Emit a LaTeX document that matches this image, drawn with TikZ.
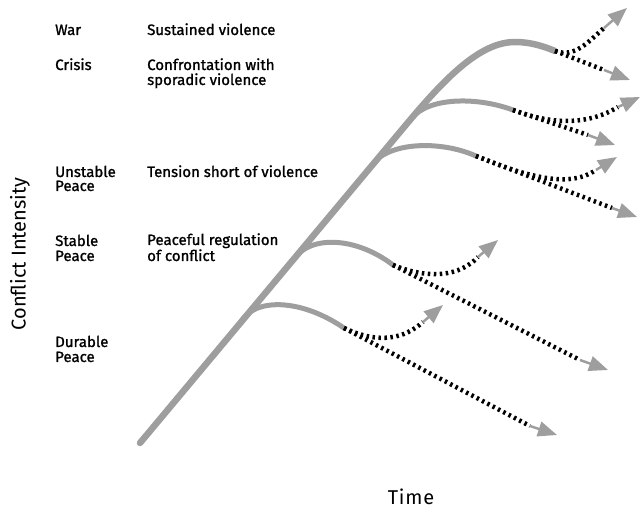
\documentclass[tikz,border=0pt]{standalone}
\usepackage{fontspec}
\setmainfont{Fira Sans}
\usetikzlibrary{arrows.meta}
\tikzset{
  mainline/.style={line width=6.5pt, draw=black!38, line cap=round},
  branchline/.style={line width=5pt, draw=black!38, line cap=round},
  hatch/.style={line width=4.5pt, draw=black, dash pattern=on 2.5pt off 3.5pt},
  graytip/.style={line width=2.5pt, draw=black!38, -{Triangle[length=19pt,width=15pt]}},
  lab/.style={anchor=base west, inner sep=0pt, font=\fontsize{15}{17}\selectfont\addfontfeatures{FakeBold=1.2}},
  axislab/.style={inner sep=0pt, font=\fontsize{20}{24}\selectfont}
}
\begin{document}
\begin{tikzpicture}[x=1pt,y=-1pt]
\useasboundingbox (0,0) rectangle (641,513);
% labels
\node[lab] (war) at (55,35) {War};
\node[lab] (warD) at (147,35) {Sustained violence};
\node[lab] (cri) at (55,70) {Crisis};
\node[lab] (criD1) at (147,70) {Confrontation with};
\node[lab] (criD2) at (147,85) {sporadic violence};
\node[lab] (uns1) at (55,177) {Unstable};
\node[lab] (uns2) at (55,191) {Peace};
\node[lab] (unsD) at (147,177) {Tension short of violence};
\node[lab] (sta1) at (55,246) {Stable};
\node[lab] (sta2) at (55,261) {Peace};
\node[lab] (staD1) at (147,245) {Peaceful regulation};
\node[lab] (staD2) at (147,261) {of conflict};
\node[lab] (dur1) at (55,347) {Durable};
\node[lab] (dur2) at (55,362) {Peace};
\node[axislab, rotate=90] (yax) at (20,254) {Conflict Intensity};
\node[axislab, anchor=base, font=\fontsize{20}{24}\selectfont\addfontfeatures{LetterSpace=4}] (xax) at (411,505) {Time};
% points
\coordinate (m0) at (140,443);
\coordinate (m1) at (405,126);
\coordinate (topp) at (515,42);
\coordinate (e1) at (555,51);
\coordinate (b2) at (412,118);
\coordinate (e2) at (513,110);
\coordinate (b3) at (372,165);
\coordinate (e3) at (476,156);
\coordinate (b4) at (295,258);
\coordinate (e4) at (393,265);
\coordinate (b5) at (241,322);
\coordinate (e5) at (344,328);
% dashed continuations
\coordinate (d1) at (604,70);  \coordinate (t1) at (630,80);
\coordinate (u1) at (604,28);  \coordinate (tu1) at (627,8);
\coordinate (d2) at (588,135); \coordinate (t2) at (615,145);
\coordinate (u2) at (618,107); \coordinate (tu2) at (640,97);
\coordinate (d3) at (612,208); \coordinate (t3) at (637,217);
\coordinate (u3) at (596,170); \coordinate (tu3) at (617,157);
\coordinate (d4) at (580,360); \coordinate (t4) at (608,370);
\coordinate (u4) at (478,257); \coordinate (tu4) at (498,240);
\coordinate (d5) at (530,426); \coordinate (t5) at (557,435);
\coordinate (u5) at (423,322); \coordinate (tu5) at (443,305);
% gray curves
\draw[mainline] (m0) -- (m1) .. controls (445,78) and (480,42) .. (topp) .. controls (530,42) and (543,46) .. (e1);
\draw[branchline] (b2) .. controls (428,98) and (475,96) .. (e2);
\draw[branchline] (b3) .. controls (388,142) and (440,140) .. (e3);
\draw[branchline] (b4) .. controls (310,236) and (355,236) .. (e4);
\draw[branchline] (b5) .. controls (254,298) and (300,298) .. (e5);
% hatched continuations
\draw[hatch] (e1) -- (d1);
\draw[hatch] (e1) .. controls (575,58) and (588,42) .. (u1);
\draw[hatch] (e2) -- (d2);
\draw[hatch] (e2) .. controls (555,126) and (590,124) .. (u2);
\draw[hatch] (e3) -- (d3);
\draw[hatch] (e3) .. controls (530,178) and (570,188) .. (u3);
\draw[hatch] (e4) -- (d4);
\draw[hatch] (e4) .. controls (430,280) and (460,276) .. (u4);
\draw[hatch] (e5) -- (d5);
\draw[hatch] (e5) .. controls (380,345) and (405,338) .. (u5);
% gray arrow heads
\draw[graytip] (d1) -- (t1);
\draw[graytip] (u1) -- (tu1);
\draw[graytip] (d2) -- (t2);
\draw[graytip] (u2) -- (tu2);
\draw[graytip] (d3) -- (t3);
\draw[graytip] (u3) -- (tu3);
\draw[graytip] (d4) -- (t4);
\draw[graytip] (u4) -- (tu4);
\draw[graytip] (d5) -- (t5);
\draw[graytip] (u5) -- (tu5);
\end{tikzpicture}
\end{document}
